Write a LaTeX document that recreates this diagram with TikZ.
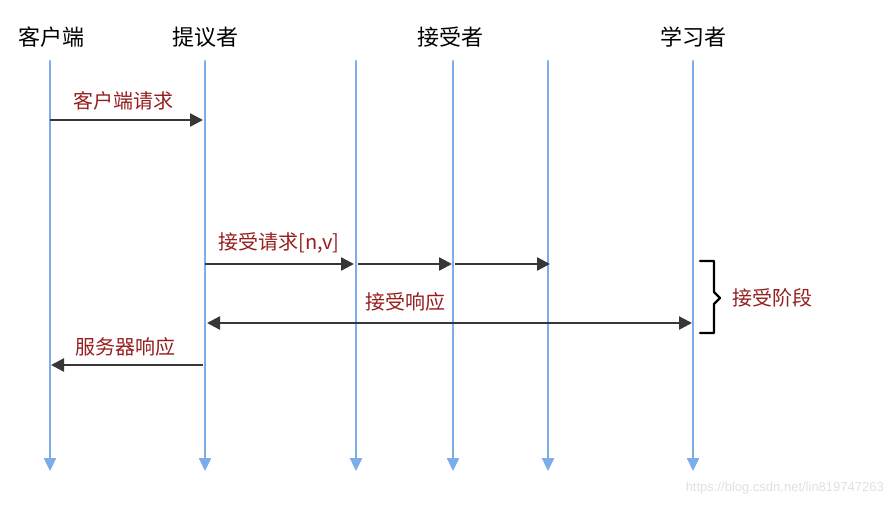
\documentclass[tikz,border=0pt]{standalone}
\usepackage{fontspec}
\setmainfont{Liberation Sans}
\newfontfamily\cjk{Noto Sans CJK SC}
\usetikzlibrary{arrows.meta}
\definecolor{lifeblue}{RGB}{125,172,235}
\definecolor{msgred}{RGB}{150,30,30}
\definecolor{arrowgray}{RGB}{55,55,55}
\begin{document}
\begin{tikzpicture}[x=1pt,y=-1pt,
  head/.style={font=\cjk\fontsize{22}{24}\selectfont, text=black, inner sep=0pt},
  lbl/.style={font=\cjk\fontsize{20}{22}\selectfont, text=msgred, inner sep=0pt},
  life/.style={draw=lifeblue, line width=2.4pt, line cap=round, -{Triangle[length=13pt,width=12pt]}},
  msg/.style={draw=arrowgray, line width=2.4pt, -{Triangle[length=13pt,width=13pt]}},
  msgboth/.style={draw=arrowgray, line width=2.4pt, {Triangle[length=13pt,width=13pt]}-{Triangle[length=13pt,width=13pt]}}
]
\useasboundingbox (0,0) rectangle (890,506);
% headers
\node[head] (hc) at (51,37) {客户端};
\node[head] (hp) at (205,37) {提议者};
\node[head] (ha) at (450,37) {接受者};
\node[head] (hl) at (693,37) {学习者};
% lifelines
\foreach \n/\x in {c/50,p/205,a1/356,a2/453,a3/548,l/693}{
  \coordinate (\n top) at (\x,61);
  \coordinate (\n bot) at (\x,471);
  \draw[life] (\n top) -- (\n bot);
}
% message anchors
\coordinate (m1s) at (50,120); \coordinate (m1e) at (203,120);
\coordinate (m2s) at (205,264); \coordinate (m2e) at (354,264);
\coordinate (m3s) at (358,264); \coordinate (m3e) at (452,264);
\coordinate (m4s) at (455,264); \coordinate (m4e) at (550,264);
\coordinate (m5s) at (207,323); \coordinate (m5e) at (692,323);
\coordinate (m6s) at (203,365); \coordinate (m6e) at (51,365);
\draw[msg] (m1s) -- (m1e);
\draw[msg] (m2s) -- (m2e);
\draw[msg] (m3s) -- (m3e);
\draw[msg] (m4s) -- (m4e);
\draw[msgboth] (m5s) -- (m5e);
\draw[msg] (m6s) -- (m6e);
% labels
\node[lbl] (l1) at (123,101) {客户端请求};
\node[lbl] (l2) at (279,243) {接受请求[n,v]};
\node[lbl] (l5) at (405,302) {接受响应};
\node[lbl] (l6) at (125,347) {服务器响应};
% bracket
\coordinate (bt) at (700,261);
\coordinate (bb) at (700,333);
\draw[line width=2.2pt, black, line cap=round, line join=round]
  (bt) -- (714,261) -- (714,292) -- (720,298) coordinate (bm) -- (714,304) -- (714,333) -- (bb);
\node[lbl, anchor=west] (l7) at (732,298) {接受阶段};
% watermark
\node[font=\fontsize{13}{15}\selectfont, text=black!12, anchor=east, inner sep=0pt] (wm) at (884,488) {https://blog.csdn.net/lin819747263};
\end{tikzpicture}
\end{document}
